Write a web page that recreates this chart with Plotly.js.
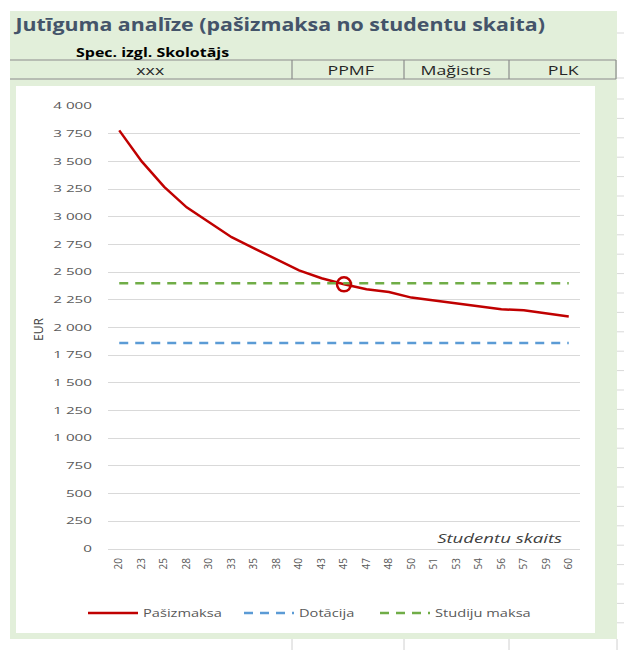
<!DOCTYPE html>
<html>
<head>
<meta charset="utf-8">
<script src="https://cdn.plot.ly/plotly-3.0.1.min.js"></script>
<style>
html,body{margin:0;padding:0;background:#ffffff;}
#chart{width:624px;height:650px;}
</style>
</head>
<body>
<div id="chart"></div>
<script>
// ---- data ----
var studentCounts = ["20","23","25","28","30","33","35","38","40","43","45","47","48","50","51","53","54","56","57","59","60"];
var pasizmaksa = [3780,3500,3270,3085,2950,2815,2715,2615,2515,2445,2390,2345,2320,2270,2245,2215,2190,2165,2155,2125,2100];
var dotacija = [1860,1860,1860,1860,1860,1860,1860,1860,1860,1860,1860,1860,1860,1860,1860,1860,1860,1860,1860,1860,1860];
var studijuMaksa = [2400,2400,2400,2400,2400,2400,2400,2400,2400,2400,2400,2400,2400,2400,2400,2400,2400,2400,2400,2400,2400];
var highlightCategory = "45";
var yTickVals = [0,250,500,750,1000,1250,1500,1750,2000,2250,2500,2750,3000,3250,3500,3750,4000];
var headerCells = ["xxx","PPMF","Mağistrs","PLK"];
var seriesNames = ["Pašizmaksa","Dotācija","Studiju maksa"];

// ---- geometry helpers (pixel -> paper) ----
var W = 624, H = 650, ML = 108, MR = 44, MT = 106, MB = 101;
var PW = W - ML - MR, PH = H - MT - MB;
function px(x){ return (x - ML) / PW; }
function py(y){ return (H - MB - y) / PH; }

var hiIdx = studentCounts.indexOf(highlightCategory);
var FONT = 'Open Sans, sans-serif';

var traces = [
  {x: studentCounts, y: pasizmaksa, type: 'scatter', mode: 'lines', name: seriesNames[0],
   legendwidth: 91, line: {color: '#c00000', width: 2.5}},
  {x: studentCounts, y: dotacija, type: 'scatter', mode: 'lines', name: seriesNames[1],
   legendwidth: 71, line: {color: '#5b9bd5', width: 2.5, dash: '9px,7px'}},
  {x: studentCounts, y: studijuMaksa, type: 'scatter', mode: 'lines', name: seriesNames[2],
   legendwidth: 100, line: {color: '#70ad47', width: 2.5, dash: '9px,7px'}},
  {x: [studentCounts[hiIdx]], y: [pasizmaksa[hiIdx]], type: 'scatter', mode: 'markers', showlegend: false,
   marker: {symbol: 'circle-open', size: 14, color: '#c00000', line: {color: '#c00000', width: 2.5}}}
];

var shapes = [];
function rect(x0,y0,x1,y1,fill){
  shapes.push({type:'rect', xref:'paper', yref:'paper', x0:px(x0), x1:px(x1), y0:py(y1), y1:py(y0),
    fillcolor: fill, line:{width:0}, layer:'below'});
}
function line(x0,y0,x1,y1,color,w){
  shapes.push({type:'line', xref:'paper', yref:'paper', x0:px(x0), x1:px(x1), y0:py(y0), y1:py(y1),
    line:{color: color, width: w||1}, layer:'below'});
}
// spreadsheet grid lines right of the block
var rowLines = [33,78,99];
for (var r = 1; r <= 27; r++) { var yy = 99 + r*19.4; if (yy < 650) rowLines.push(yy); }
rowLines.forEach(function(y){ line(617,y,624,y,'#d9d9d9',1); });
// green block
rect(10,11,617,639,'#e2efda');
// white chart area
rect(16,86,595,633,'#ffffff');
// header row borders
line(10,60,616,60,'#8c8c8c',1.2);
line(10,79,616,79,'#8c8c8c',1.2);
[292,404,509,616].forEach(function(x){ line(x,60,x,79,'#8c8c8c',1.2); });
// cell dividers below block
[292,404,509,617].forEach(function(x){ line(x,639,x,650,'#d0d0d0',1); });

var cellCenters = [151,350,456,563];
var annotations = [], annStretch = [];
annotations.push({text:'Jutīguma analīze (pašizmaksa no studentu skaita)', xref:'paper', yref:'paper',
   x:px(278.5), y:py(23.5), xanchor:'center', yanchor:'middle', showarrow:false,
   font:{family:FONT, size:17.5, color:'#44546a', weight:700}});
annStretch.push(1.22);
annotations.push({text:'Spec. izgl. Skolotājs', xref:'paper', yref:'paper', x:px(152), y:py(52),
   xanchor:'center', yanchor:'middle', showarrow:false,
   font:{family:FONT, size:12, color:'#000000', weight:700}});
annStretch.push(1.33);
annotations.push({text:'EUR', xref:'paper', yref:'paper', x:px(38), y:py(330), textangle:-90,
   xanchor:'center', yanchor:'middle', showarrow:false,
   font:{family:FONT, size:12, color:'#404040'}});
annStretch.push(1);
annotations.push({text:'<i>Studentu skaits</i>', xref:'paper', yref:'paper', x:px(499.5), y:py(538),
   xanchor:'center', yanchor:'middle', showarrow:false,
   font:{family:FONT, size:13, color:'#404040'}});
annStretch.push(1.43);
headerCells.forEach(function(t,i){
  annotations.push({text:t, xref:'paper', yref:'paper', x:px(cellCenters[i]), y:py(70.5),
    xanchor:'center', yanchor:'middle', showarrow:false,
    font:{family:FONT, size:12, color:'#262626'}});
  annStretch.push(1.48);
});

var layout = {
  width: W, height: H,
  margin: {l: ML, r: MR, t: MT, b: MB, pad: 0},
  paper_bgcolor: '#ffffff',
  plot_bgcolor: 'rgba(0,0,0,0)',
  separators: ', ',
  showlegend: true,
  legend: {orientation:'h', x: px(83), xanchor:'left', y: py(613), yanchor:'middle',
    font:{family:FONT, size:11, color:'#595959'}, bgcolor:'rgba(0,0,0,0)',
    itemwidth: 50},
  xaxis: {type:'category', categoryarray: studentCounts, range:[-0.5, studentCounts.length - 0.5],
    showgrid:false, zeroline:false, showline:true, linecolor:'#d9d9d9', linewidth:1,
    ticks:'', tickangle:-90, ticklabelstandoff: 4,
    tickfont:{family:FONT, size:10, color:'#595959'}, fixedrange:true},
  yaxis: {range:[0,4000], tickvals: yTickVals, separatethousands:true, tickformat:',d',
    showgrid:true, gridcolor:'#d9d9d9', gridwidth:1, zeroline:false, showline:false,
    ticks:'', ticklabelstandoff: 15,
    tickfont:{family:FONT, size:9, color:'#595959'}, fixedrange:true},
  shapes: shapes,
  annotations: annotations
};

// horizontal widening of text, to mimic the wide rendering of the spreadsheet fonts
function stretchNode(t, k, anchor){
  if (k === 1) return;
  var r = t.getBoundingClientRect();
  var S = anchor === 'left' ? r.left : (anchor === 'right' ? r.right : (r.left + r.right) / 2);
  var pc = t.parentNode.getScreenCTM();
  var L = (S - pc.e) / pc.a;
  var e = L * (1 - k);
  var tr = t.getAttribute('transform') || '';
  t.setAttribute('transform', 'matrix(' + k + ',0,0,1,' + e + ',0) ' + tr);
}

Plotly.newPlot('chart', traces, layout, {displayModeBar:false, staticPlot:true}).then(function(gd){
  gd.querySelectorAll('.ytick text').forEach(function(t){ stretchNode(t, 1.69, 'right'); });
  gd.querySelectorAll('.legendtext').forEach(function(t){ stretchNode(t, 1.33, 'left'); });
  gd.querySelectorAll('g.annotation').forEach(function(g){
    var i = parseInt(g.getAttribute('data-index'), 10);
    var t = g.querySelector('text.annotation-text');
    if (t && annStretch[i]) stretchNode(t, annStretch[i], 'center');
  });
});
</script>
</body>
</html>
